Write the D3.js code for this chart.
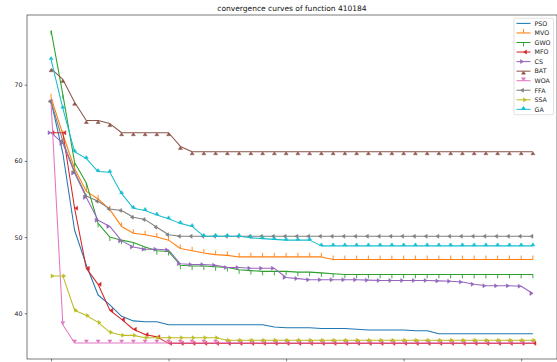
<!DOCTYPE html>
<html>
<head>
<meta charset="utf-8">
<script src="https://cdn.jsdelivr.net/npm/d3@7"></script>
<style>
  body { margin: 0; background: #fff; }
  text { font-family: "DejaVu Sans", sans-serif; }
</style>
</head>
<body>
<svg id="chart"></svg>
<script>
const title = "convergence curves of function 410184"
const algorithms = ["PSO", "MVO", "GWO", "MFO", "CS", "BAT", "WOA", "FFA", "SSA", "GA"]
const colors = ["#1f77b4", "#ff7f0e", "#2ca02c", "#d62728", "#9467bd", "#8c564b", "#e377c2", "#7f7f7f", "#bcbd22", "#17becf"]
const markers = ["none", "tickup", "tickdown", "caretleft", "caretright", "caretup", "caretdown", "caretleftbase", "caretrightbase", "caretupbase"]
const xTicks = [0, 10, 20, 30, 40]
const yTicks = [40, 50, 60, 70]

// best fitness per iteration
const pso = [67.8, 61.0, 50.9, 46.3, 42.4, 41.1, 39.6, 39.0, 38.9, 38.9, 38.5, 38.5, 38.5, 38.5, 38.5, 38.5, 38.5, 38.5, 38.5, 38.2, 38.1,
  38.1, 38.1, 38.0, 38.0, 38.0, 37.9, 37.8, 37.8, 37.8, 37.8, 37.7, 37.7, 37.3, 37.3, 37.3, 37.3, 37.3, 37.3, 37.3, 37.3, 37.3]
const mvo = [68.3, 63.5, 59.0, 56.0, 55.0, 53.6, 51.4, 50.5, 50.3, 50.0, 49.6, 48.5, 48.2, 47.9, 47.7, 47.6, 47.4, 47.4, 47.4, 47.4, 47.4,
  47.4, 47.4, 47.4, 47.05, 47.05, 47.05, 47.05, 47.05, 47.05, 47.05, 47.05, 47.05, 47.05, 47.05, 47.05, 47.05, 47.05, 47.05, 47.05, 47.05, 47.05]
const gwo = [77.1, 68.7, 59.8, 57.1, 51.8, 50.0, 49.6, 49.3, 48.7, 48.2, 48.1, 46.3, 46.2, 46.2, 46.1, 46.0, 45.7, 45.6, 45.5, 45.5, 45.5,
  45.4, 45.4, 45.3, 45.2, 45.1, 45.1, 45.1, 45.1, 45.1, 45.1, 45.1, 45.1, 45.1, 45.1, 45.1, 45.1, 45.1, 45.1, 45.1, 45.1, 45.1]
const mfo = [63.7, 63.7, 53.8, 45.9, 43.8, 40.4, 39.2, 37.9, 37.2, 36.9, 36.05, 36.05, 36.05, 36.05, 36.05, 36.05, 36.05, 36.05, 36.05, 36.05, 36.05,
  36.05, 36.05, 36.05, 36.05, 36.05, 36.05, 36.05, 36.05, 36.05, 36.05, 36.05, 36.05, 36.05, 36.05, 36.05, 36.05, 36.05, 36.05, 36.05, 36.05, 36.05]
const cs = [63.7, 62.3, 58.4, 55.2, 52.2, 51.4, 49.5, 48.7, 48.4, 48.4, 48.3, 46.5, 46.4, 46.4, 46.3, 46.0, 46.0, 45.9, 45.9, 45.9, 44.7,
  44.55, 44.4, 44.4, 44.4, 44.4, 44.4, 44.35, 44.3, 44.3, 44.3, 44.3, 44.3, 44.25, 44.2, 44.1, 43.8, 43.6, 43.6, 43.6, 43.55, 42.6]
const bat = [72.1, 70.7, 67.7, 65.3, 65.3, 64.9, 63.7, 63.7, 63.7, 63.7, 63.7, 61.9, 61.2, 61.2, 61.2, 61.2, 61.2, 61.2, 61.2, 61.2, 61.2,
  61.2, 61.2, 61.2, 61.2, 61.2, 61.2, 61.2, 61.2, 61.2, 61.2, 61.2, 61.2, 61.2, 61.2, 61.2, 61.2, 61.2, 61.2, 61.2, 61.2, 61.2]
const woa = [67.6, 38.5, 36.1, 36.1, 36.1, 36.1, 36.1, 36.1, 36.1, 36.1, 36.1, 36.1, 36.1, 36.1, 36.1, 36.1, 36.1, 36.1, 36.1, 36.1, 36.1,
  36.1, 36.1, 36.1, 36.1, 36.1, 36.1, 36.1, 36.1, 36.1, 36.1, 36.1, 36.1, 36.1, 36.1, 36.1, 36.1, 36.1, 36.1, 36.1, 36.1, 36.1]
const ffa = [67.8, 62.6, 58.6, 55.4, 54.7, 53.7, 53.5, 52.6, 52.3, 51.3, 50.3, 50.1, 50.1, 50.1, 50.1, 50.1, 50.1, 50.1, 50.1, 50.1, 50.1,
  50.1, 50.1, 50.1, 50.1, 50.1, 50.1, 50.1, 50.1, 50.1, 50.1, 50.1, 50.1, 50.1, 50.1, 50.1, 50.1, 50.1, 50.1, 50.1, 50.1, 50.1]
const ssa = [44.9, 44.9, 40.4, 39.7, 38.8, 37.5, 37.1, 37.1, 36.8, 36.8, 36.8, 36.8, 36.8, 36.8, 36.8, 36.45, 36.45, 36.45, 36.45, 36.45, 36.45,
  36.45, 36.45, 36.45, 36.45, 36.45, 36.45, 36.45, 36.45, 36.45, 36.45, 36.45, 36.45, 36.45, 36.45, 36.45, 36.45, 36.45, 36.45, 36.45, 36.45, 36.45]
const ga = [73.3, 66.9, 61.2, 60.3, 58.6, 58.5, 55.7, 53.8, 53.5, 52.9, 52.4, 51.8, 51.4, 50.1, 50.1, 50.1, 50.1, 49.9, 49.8, 49.7, 49.6,
  49.6, 49.6, 48.85, 48.85, 48.85, 48.85, 48.85, 48.85, 48.85, 48.85, 48.85, 48.85, 48.85, 48.85, 48.85, 48.85, 48.85, 48.85, 48.85, 48.85, 48.85]

const seriesValues = [pso, mvo, gwo, mfo, cs, bat, woa, ffa, ssa, ga]

const width = 557
const height = 362
const margin = { top: 15, right: 0, bottom: 3, left: 27 }
const ms = 4.0

const svg = d3.select("#chart")
  .attr("width", width)
  .attr("height", height)

// matplotlib style 5% padding on both axes
const nPoints = pso.length
const xPad = (nPoints - 1) * 0.05
const x = d3.scaleLinear()
  .domain([-xPad, nPoints - 1 + xPad])
  .range([margin.left, width - margin.right])

const allValues = seriesValues.flat()
const yMin = d3.min(allValues)
const yMax = d3.max(allValues)
const yPad = (yMax - yMin) * 0.05
const y = d3.scaleLinear()
  .domain([yMin - yPad, yMax + yPad])
  .range([height - margin.bottom, margin.top])

const plot = svg.append("g")

// axes (x tick labels fall below the bottom edge of the picture, only the marks show)
const xAxis = svg.append("g")
  .attr("transform", `translate(0,${height - margin.bottom})`)
  .call(d3.axisBottom(x).tickValues(xTicks).tickSize(2.3).tickFormat(""))
const yAxis = svg.append("g")
  .attr("transform", `translate(${margin.left},0)`)
  .call(d3.axisLeft(y).tickValues(yTicks).tickSize(2.3).tickPadding(2.2))

;[xAxis, yAxis].forEach(a => {
  a.select(".domain").remove()
  a.selectAll(".tick line").attr("stroke", "#222").attr("stroke-width", 0.6)
  a.selectAll(".tick text").attr("fill", "#222").style("font-size", "6.3px").style("font-family", "DejaVu Sans")
})
xAxis.selectAll(".tick text").remove()

// frame
svg.append("rect")
  .attr("x", margin.left)
  .attr("y", margin.top)
  .attr("width", width - margin.right - margin.left)
  .attr("height", height - margin.bottom - margin.top)
  .attr("fill", "none")
  .attr("stroke", "#222")
  .attr("stroke-width", 0.6)

function markerPath(type, s) {
  const h = s / 2, l = s * 0.75
  switch (type) {
    case "tickup": return `M0,0L0,${-s}`
    case "tickdown": return `M0,0L0,${s}`
    case "caretleft": return `M${l},${-h}L0,0L${l},${h}Z`
    case "caretright": return `M${-l},${-h}L0,0L${-l},${h}Z`
    case "caretup": return `M${-h},${l}L0,0L${h},${l}Z`
    case "caretdown": return `M${-h},${-l}L0,0L${h},${-l}Z`
    case "caretleftbase": return `M0,${-h}L${-l},0L0,${h}Z`
    case "caretrightbase": return `M0,${-h}L${l},0L0,${h}Z`
    case "caretupbase": return `M${-h},0L0,${-l}L${h},0Z`
    default: return null
  }
}

const line = d3.line()
  .x((d, i) => x(i))
  .y(d => y(d))

svg.append("clipPath").attr("id", "clip")
  .append("rect")
  .attr("x", margin.left).attr("y", margin.top)
  .attr("width", width - margin.left - margin.right)
  .attr("height", height - margin.top - margin.bottom)

plot.attr("clip-path", "url(#clip)")

seriesValues.forEach((vals, k) => {
  const g = plot.append("g")
  g.append("path")
    .attr("d", line(vals))
    .attr("fill", "none")
    .attr("stroke", colors[k])
    .attr("stroke-width", 1.05)
    .attr("stroke-linejoin", "round")

  const mp = markerPath(markers[k], ms)
  if (mp) {
    const isTick = markers[k].startsWith("tick")
    g.selectAll("path.mk")
      .data(vals)
      .join("path")
        .attr("class", "mk")
        .attr("d", mp)
        .attr("transform", (d, i) => `translate(${x(i)},${y(d)})`)
        .attr("fill", isTick ? "none" : colors[k])
        .attr("stroke", colors[k])
        .attr("stroke-width", isTick ? 0.9 : 0.5)
  }
})

// title
svg.append("text")
  .attr("x", (margin.left + width - margin.right) / 2)
  .attr("y", 11)
  .attr("text-anchor", "middle")
  .attr("fill", "#111")
  .style("font-size", "7.5px")
  .text(title)

// legend
const legend = svg.append("g")
legend.append("rect")
  .attr("x", 514)
  .attr("y", 18.2)
  .attr("width", 39.5)
  .attr("height", 96.5)
  .attr("rx", 1.5)
  .attr("fill", "#fff")
  .attr("fill-opacity", 0.8)
  .attr("stroke", "#ccc")
  .attr("stroke-width", 0.6)

algorithms.forEach((name, k) => {
  const cy = 23.4 + k * 9.55
  const row = legend.append("g")
  row.append("line")
    .attr("x1", 516.5).attr("x2", 530.5)
    .attr("y1", cy).attr("y2", cy)
    .attr("stroke", colors[k])
    .attr("stroke-width", 1.05)
  const mp = markerPath(markers[k], ms)
  if (mp) {
    const isTick = markers[k].startsWith("tick")
    row.append("path")
      .attr("d", mp)
      .attr("transform", `translate(523.5,${cy})`)
      .attr("fill", isTick ? "none" : colors[k])
      .attr("stroke", colors[k])
      .attr("stroke-width", isTick ? 0.9 : 0.5)
  }
  row.append("text")
    .attr("x", 534.5)
    .attr("y", cy + 2.3)
    .attr("fill", "#222")
    .style("font-size", "6.3px")
    .text(name)
})
</script>
</body>
</html>
